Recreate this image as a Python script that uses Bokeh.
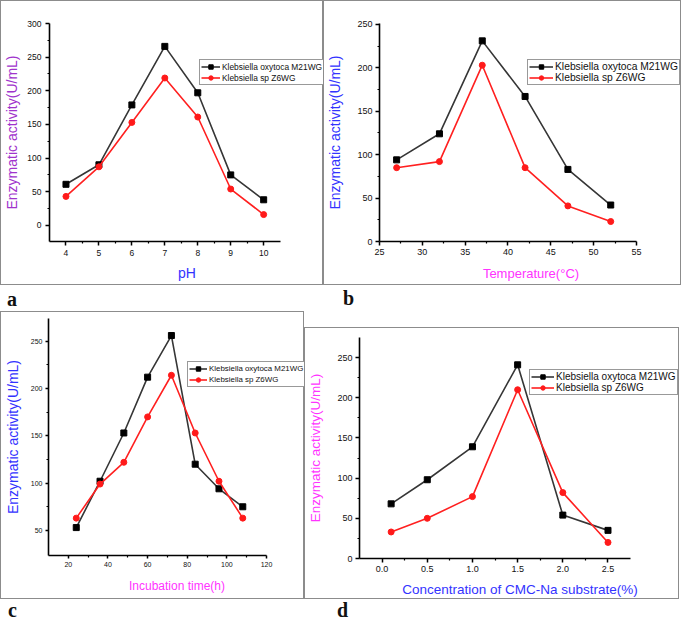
from bokeh.plotting import figure
from bokeh.models import Range1d, FixedTicker, Legend, LegendItem, Div, Spacer, NumeralTickFormatter
from bokeh.layouts import column, row
from bokeh.embed import file_html
from bokeh.resources import INLINE

# ---------------- data ----------------
series_names = ["Klebsiella oxytoca M21WG", "Klebsiella sp Z6WG"]

ph = [4, 5, 6, 7, 8, 9, 10]
ph_m21 = [61, 90, 179, 266, 197, 75, 38]
ph_z6 = [43, 87, 153, 219, 161, 54, 16]

temp = [27, 32, 37, 42, 47, 52]
temp_m21 = [94, 124, 231, 167, 83, 42]
temp_z6 = [85, 92, 203, 85, 41, 23]

time_h = [24, 36, 48, 60, 72, 84, 96, 108]
time_m21 = [53, 102, 153, 212, 256, 120, 94, 75]
time_z6 = [63, 99, 122, 170, 214, 153, 102, 63]

conc = [0.1, 0.5, 1.0, 1.5, 2.0, 2.5]
conc_m21 = [68, 98, 139, 241, 54, 35]
conc_z6 = [33, 50, 77, 210, 82, 20]

ph_ticks = [4, 5, 6, 7, 8, 9, 10]
ph_yticks = [0, 50, 100, 150, 200, 250, 300]
temp_ticks = [25, 30, 35, 40, 45, 50, 55]
temp_yticks = [0, 50, 100, 150, 200, 250]
time_ticks = [20, 40, 60, 80, 100, 120]
time_yticks = [50, 100, 150, 200, 250]
conc_ticks = [0.0, 0.5, 1.0, 1.5, 2.0, 2.5]
conc_yticks = [0, 50, 100, 150, 200, 250]

YLABEL = "Enzymatic activity(U/mL)"

# ---------------- styling helpers ----------------
S = 1.0
def px(v):
    return int(round(v * S))
def fs(v):
    return f"{v * S:.1f}px"

BLUE = "#3333ff"
MAGENTA = "#ff33ff"
PURPLE = "#a033cc"
TICKFONT = "Liberation Sans"
LABFONT = "Liberation Sans"


def minors(t):
    return [(a + b) / 2 for a, b in zip(t[:-1], t[1:])]


def panel(x, y1, y2, xr, yr, xt, yt, xlabel, ylabel, xcol, ycol, w, h, mb, axis_right,
          tick_fs, xlab_fs, ylab_fs, leg_fs, leg_pos, glyph_w,
          ystand, xstand, tick_out, tick_stand, xfmt=None):
    # The frame spans from the y axis to the panel's right edge, so that the
    # legend (which overhangs the end of the x axis) is not clipped; the x axis
    # itself is bounded to its own range.  axis_right is relative to the panel.
    mbl, mbr, mbt, mbb = mb
    frame_right = w - 1
    x0, x1 = xr
    x1_ext = x0 + (x1 - x0) * (frame_right - mbl) / (axis_right - mbl)
    p = figure(width=px(w) - 2, height=px(h) - 2, output_backend="svg", toolbar_location=None,
               title=None, x_range=Range1d(x0, x1_ext), y_range=Range1d(*yr),
               min_border_left=px(mbl) - 1, min_border_right=0,
               min_border_top=px(mbt) - 1, min_border_bottom=px(mbb) - 1)
    p.outline_line_color = None
    p.grid.visible = False
    p.background_fill_color = "white"
    p.border_fill_color = "white"
    p.styles = {"border": "1px solid #8c8c8c"}

    p.xaxis[0].bounds = (x0, x1)
    p.xaxis[0].ticker = FixedTicker(ticks=xt, minor_ticks=minors(xt))
    p.yaxis[0].ticker = FixedTicker(ticks=yt, minor_ticks=minors(yt))
    if xfmt:
        p.xaxis[0].formatter = NumeralTickFormatter(format=xfmt)
    for ax in (p.xaxis[0], p.yaxis[0]):
        ax.axis_line_width = 1.6
        ax.axis_line_color = "black"
        ax.major_tick_line_color = "black"
        ax.major_tick_line_width = 1.5
        ax.minor_tick_line_color = "black"
        ax.minor_tick_line_width = 1.2
        ax.major_tick_out = px(tick_out)
        ax.major_tick_in = 0
        ax.minor_tick_out = px(2.5)
        ax.minor_tick_in = 0
        ax.major_label_text_font = TICKFONT
        ax.major_label_text_font_size = fs(tick_fs)
        ax.major_label_text_color = "#111111"
        ax.major_label_standoff = px(tick_stand)
        ax.axis_label_text_font = LABFONT
        ax.axis_label_text_font_style = "normal"
    p.xaxis[0].axis_label = xlabel
    p.xaxis[0].axis_label_text_color = xcol
    p.xaxis[0].axis_label_text_font_size = fs(xlab_fs)
    p.xaxis[0].axis_label_standoff = px(xstand)
    p.yaxis[0].axis_label = ylabel
    p.yaxis[0].axis_label_text_color = ycol
    p.yaxis[0].axis_label_text_font_size = fs(ylab_fs)
    p.yaxis[0].axis_label_standoff = px(ystand)

    l1 = p.line(x, y1, line_color="#363636", line_width=1.6)
    m1 = p.scatter(x, y1, marker="square", size=px(6.5), fill_color="black", line_color="black")
    l2 = p.line(x, y2, line_color="#ff2020", line_width=1.6)
    m2 = p.scatter(x, y2, marker="circle", size=px(6.5), fill_color="#ff1a1a", line_color="#ff1a1a")

    leg = Legend(items=[LegendItem(label=series_names[0], renderers=[l1, m1]),
                        LegendItem(label=series_names[1], renderers=[l2, m2])],
                 location=(px(leg_pos[0]), px(leg_pos[1])))
    leg.label_text_font = TICKFONT
    leg.label_text_font_size = fs(leg_fs)
    leg.label_text_color = "#111111"
    leg.label_standoff = px(2)
    leg.glyph_width = px(glyph_w)
    leg.glyph_height = px(11)
    leg.label_height = px(11)
    leg.padding = px(1)
    leg.spacing = 0
    leg.margin = 0
    leg.border_line_color = "#333333"
    leg.border_line_width = 1
    leg.background_fill_color = "white"
    leg.background_fill_alpha = 1.0
    p.add_layout(leg, "center")
    return p


fa = panel(ph, ph_m21, ph_z6, (3.5, 10.5), (-24, 300), ph_ticks, ph_yticks,
           "pH", YLABEL, BLUE, PURPLE, 325, 287, (45, 46, 12, 46), 279,
           8.5, 14, 14, 8.4, (150, 156), 19, 4, 6, 4, 4)
fb = panel(temp, temp_m21, temp_z6, (25, 55), (0, 251), temp_ticks, temp_yticks,
           "Temperature(°C)", YLABEL, MAGENTA, BLUE, 360, 287, (50, 48, 23, 43), 312,
           9, 13, 14, 10.3, (148, 156), 24, 11, 8, 4, 3)
fc = panel(time_h, time_m21, time_z6, (10, 120), (23.5, 274), time_ticks, time_yticks,
           "Incubation time(h)", YLABEL, MAGENTA, BLUE, 306, 290, (41, 41, 7, 46), 265,
           7, 12, 14, 7.9, (139, 168), 18, 7, 9, 3, 3)
fd = panel(conc, conc_m21, conc_z6, (-0.25, 2.75), (0, 275), conc_ticks, conc_yticks,
           "Concentration of CMC-Na substrate(%)", YLABEL, BLUE, MAGENTA, 377, 274, (48, 52, 10, 43), 325,
           9, 13.5, 13.5, 10.0, (170, 163), 23, 11, 7, 4, 3, xfmt="0.0")


def letter_row(w, h, items):
    spans = "".join(
        f'<span style="position:absolute;left:{px(x)}px;top:{px(t)}px;'
        f"font-family:'Liberation Serif',serif;font-weight:bold;font-size:{fs(20)};"
        f'line-height:{fs(20)};color:#111">{ch}</span>'
        for ch, x, t in items)
    return Div(text=f'<div style="position:relative;width:{px(w)}px;height:{px(h)}px;overflow:visible">{spans}</div>',
               width=px(w), height=px(h), margin=(0, 0, 0, 0))


row1_letters = letter_row(685, 26, [("a", 7, 4), ("b", 343, 3)])
row2_letters = letter_row(685, 19, [("c", 8, 1), ("d", 337, 1)])

layout = column(
    row(fa, fb),
    row1_letters,
    row(fc, column(Spacer(width=px(377), height=px(16)), fd)),
    row2_letters,
)

open("out.html", "w").write(file_html(layout, INLINE, title="Enzymatic activity"))
